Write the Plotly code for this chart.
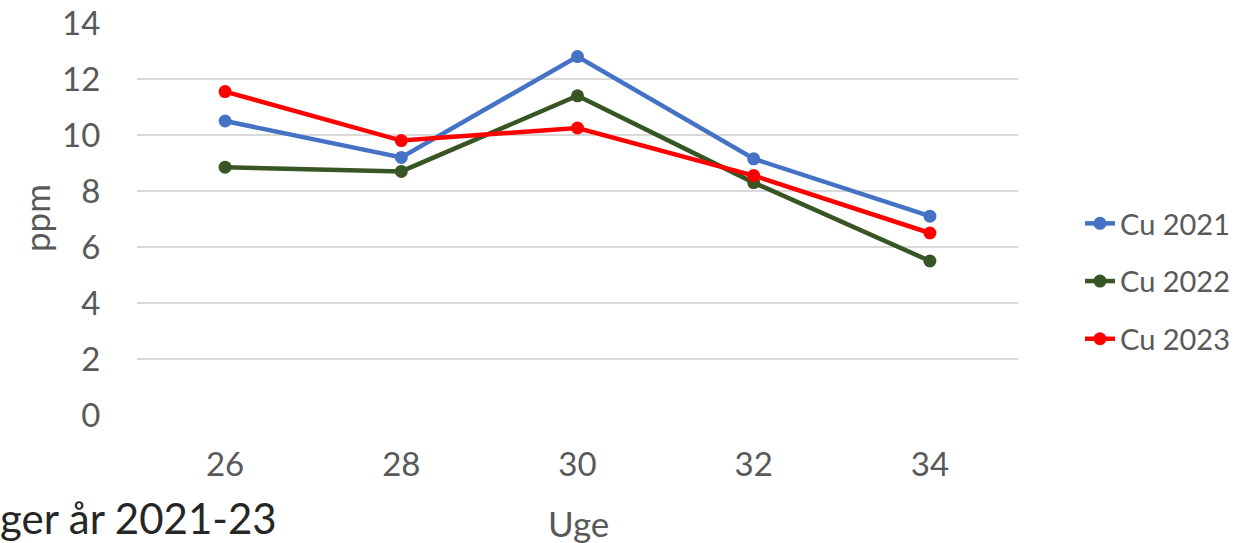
import plotly.graph_objects as go

# Copper concentration (ppm) per week
weeks = ["26", "28", "30", "32", "34"]
cu_2021 = [10.5, 9.2, 12.8, 9.15, 7.1]
cu_2022 = [8.85, 8.7, 11.4, 8.3, 5.5]
cu_2023 = [11.55, 9.8, 10.25, 8.55, 6.5]

series_names = ["Cu 2021", "Cu 2022", "Cu 2023"]
series_values = [cu_2021, cu_2022, cu_2023]
series_colors = ["#4472C4", "#375623", "#FF0000"]

FONT = "Lato, 'Open Sans', sans-serif"
GREY = "#595959"

fig = go.Figure()
for i, (name, vals, col) in enumerate(zip(series_names, series_values, series_colors)):
    fig.add_trace(go.Scatter(
        x=weeks, y=vals, name=name, mode="lines+markers",
        line=dict(color=col, width=4.5),
        marker=dict(color=col, size=13),
        legendgroup=f"g{i}",
    ))

W, H = 1242, 543
L, R, T, B = 137, 224, 23, 128
pw, ph = W - L - R, H - T - B

def px_x(x):
    return (x - L) / pw

def px_y(y):
    return (H - B - y) / ph

fig.update_layout(
    width=W, height=H,
    margin=dict(l=L, r=R, t=T, b=B, pad=0, autoexpand=False),
    paper_bgcolor="white", plot_bgcolor="white",
    font=dict(family=FONT, color=GREY),
    showlegend=True,
    legend=dict(
        x=px_x(1080), xanchor="left",
        y=px_y(198), yanchor="top",
        font=dict(size=29, color=GREY, family=FONT),
        tracegroupgap=17,
        bgcolor="rgba(0,0,0,0)",
    ),
    xaxis=dict(
        type="category", range=[-0.5, 4.5], automargin=False,
        showgrid=False, zeroline=False, showline=False,
        ticks="outside", ticklen=20, tickcolor="rgba(0,0,0,0)",
        tickfont=dict(size=33, color=GREY, family=FONT),
    ),
    yaxis=dict(
        range=[0, 14], dtick=2, automargin=False,
        showgrid=True, gridcolor="#D9D9D9", gridwidth=1.5,
        zeroline=False, showline=False,
        ticks="outside", ticklen=29, tickcolor="rgba(0,0,0,0)",
        tickfont=dict(size=33, color=GREY, family=FONT),
    ),
    annotations=[
        dict(text="ppm", xref="paper", yref="paper",
             x=px_x(36), y=px_y(218), textangle=-90,
             showarrow=False, xanchor="center", yanchor="middle",
             font=dict(size=35, color=GREY, family=FONT)),
        dict(text="Uge", xref="paper", yref="paper",
             x=px_x(578), y=px_y(523),
             showarrow=False, xanchor="center", yanchor="middle",
             font=dict(size=35, color=GREY, family=FONT)),
        dict(text="ger år 2021-23", xref="paper", yref="paper",
             x=px_x(-2), y=px_y(518),
             showarrow=False, xanchor="left", yanchor="middle",
             font=dict(size=42, color="#262626", family=FONT)),
    ],
)

fig.write_html("out.html")
